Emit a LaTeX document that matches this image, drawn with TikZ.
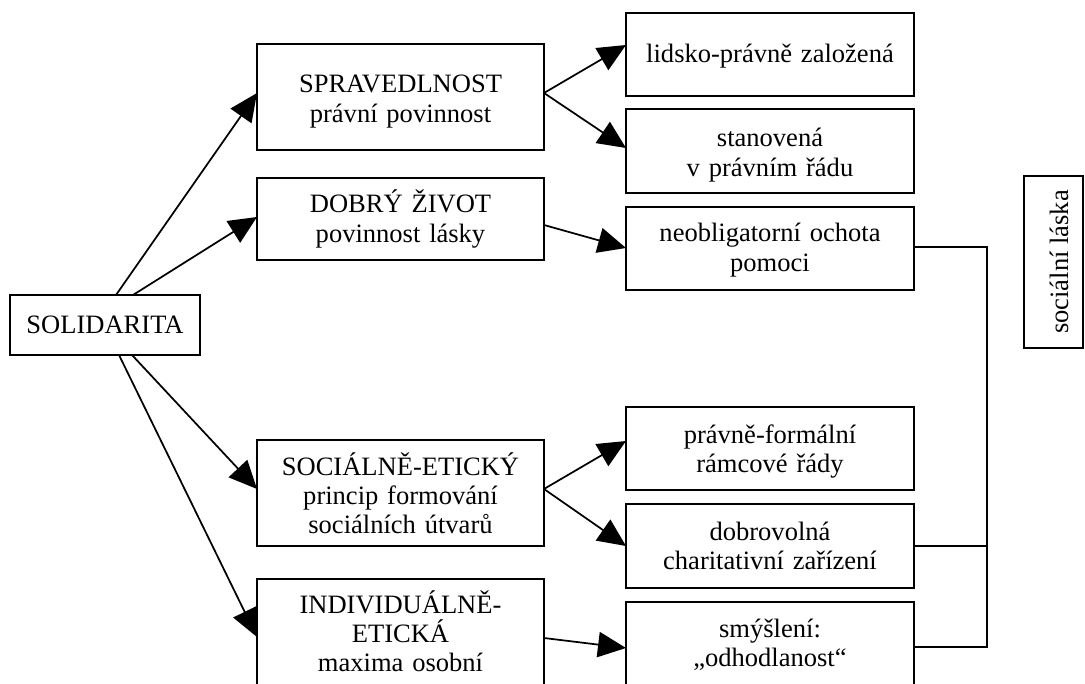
\documentclass[tikz,border=0pt]{standalone}
\usepackage{fontspec}
\setmainfont{Liberation Serif}
\usetikzlibrary{arrows.meta,calc}
\tikzset{
  boxstyle/.style={draw, line width=1.4pt, inner sep=0pt, outer sep=0pt,
    anchor=north west, align=center,
    font=\fontsize{19.9}{22.1}\selectfont},
  arr/.style={line width=1.3pt, -{Triangle[length=21pt,width=19pt]}},
  conn/.style={line width=1.3pt},
}
\newcommand\mybox[7]{%
  \pgfmathsetmacro\mybw{(#4-#2)*0.75}%
  \pgfmathsetmacro\mybh{(#5-#3)*0.75}%
  \pgfmathsetmacro\mybd{(#6-#5)*0.75}%
  \node[boxstyle, text width=\mybw pt, text height=\mybh pt, text depth=\mybd pt] (#1) at (#2,#3) {#7};%
}
\begin{document}
\begin{tikzpicture}[x=0.75pt,y=-0.75pt]
\useasboundingbox (0,0) rectangle (1085,684);
\clip (0,0) rectangle (1085,684);
% left
\mybox{sol}{10}{295}{200}{333}{355}{SOLIDARITA}
% middle column
\mybox{sp}{257}{44}{544}{93}{150}{SPRAVEDLNOST\\právní povinnost}
\mybox{dz}{257}{178}{544}{213}{260}{DOBRÝ ŽIVOT\\povinnost lásky}
\mybox{se}{257}{440}{544}{475}{546}{SOCIÁLNĚ-ETICKÝ\\princip formování\\sociálních útvarů}
\mybox{ie}{257}{579}{544}{613}{720}{INDIVIDUÁLNĚ-\\ETICKÁ\\maxima osobní}
% right column
\mybox{lid}{626}{13}{914}{63}{96}{lidsko-právně založená}
\mybox{stn}{626}{109}{914}{147}{193}{stanovená\\v právním řádu}
\mybox{neo}{626}{207}{914}{242}{290}{neobligatorní ochota\\pomoci}
\mybox{prf}{626}{407}{914}{443}{490}{právně-formální\\rámcové řády}
\mybox{dob}{626}{504}{914}{540}{588}{dobrovolná\\charitativní zařízení}
\mybox{sms}{626}{602}{914}{637}{720}{smýšlení:\\„odhodlanost“}
% social love box
\node[draw, line width=1.4pt, inner sep=0pt, outer sep=0pt, rotate=90,
  minimum width=129pt, text height=33pt, text depth=11.25pt,
  font=\fontsize{19.9}{22.1}\selectfont] (sl) at (1053.5,262) {sociální láska};
% arrows
\draw[arr] ($(sol.north west)+(106,0)$) -- ($(sp.north west)+(0,49)$);
\draw[arr] ($(sol.north west)+(123,0)$) -- ($(dz.north west)+(0,39)$);
\draw[arr] ($(sol.south west)+(122,0)$) -- ($(se.north west)+(0,49)$);
\draw[arr] ($(sol.south west)+(109,0)$) -- ($(ie.north west)+(0,58)$);
\draw[arr] ($(sp.north east)+(0,49)$) -- ($(lid.north west)+(0,32)$);
\draw[arr] ($(sp.north east)+(0,49)$) -- ($(stn.north west)+(0,39)$);
\draw[arr] ($(dz.north east)+(0,47)$) -- ($(neo.north west)+(0,41)$);
\draw[arr] ($(se.north east)+(0,49)$) -- ($(prf.north west)+(0,34)$);
\draw[arr] ($(se.north east)+(0,49)$) -- ($(dob.north west)+(0,42)$);
\draw[arr] ($(ie.north east)+(0,59)$) -- ($(sms.north west)+(0,46)$);
% bracket connectors
\coordinate (bus) at (987,0);
\coordinate (n1) at ($(neo.north east)+(0,40)$);
\coordinate (d1) at ($(dob.north east)+(0,42)$);
\coordinate (s1) at ($(sms.north east)+(0,45)$);
\draw[conn] (n1) -- (n1 -| bus) -- (bus |- s1) -- (s1);
\draw[conn] (d1) -- (d1 -| bus);
\end{tikzpicture}
\end{document}
